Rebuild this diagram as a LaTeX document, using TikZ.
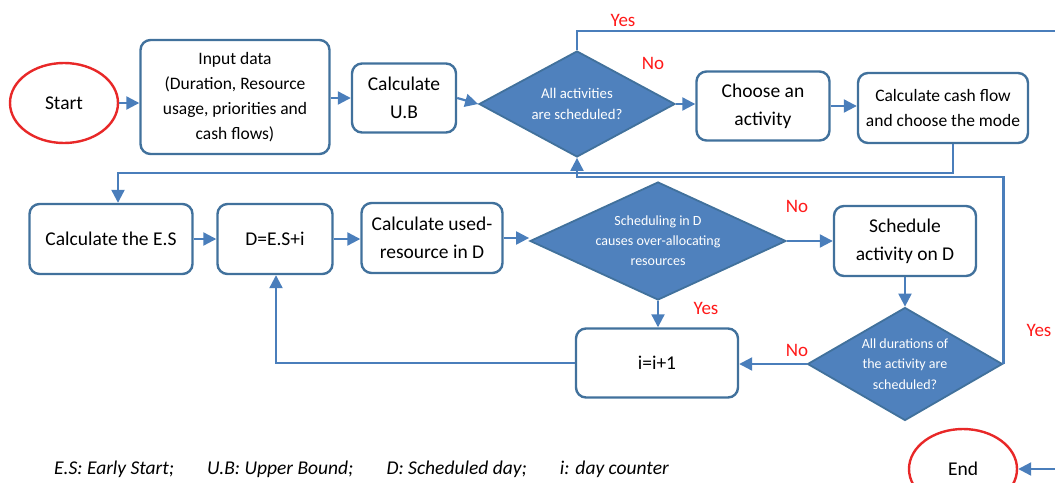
\documentclass[tikz,border=0pt]{standalone}
\usepackage{fontspec}
\setmainfont{Carlito}
\usetikzlibrary{shapes.geometric,arrows.meta}
\definecolor{boxblue}{RGB}{65,113,156}
\definecolor{lineblue}{RGB}{74,126,187}
\definecolor{decfill}{RGB}{79,129,189}
\definecolor{termred}{RGB}{232,40,40}
\definecolor{labred}{RGB}{255,25,25}
\begin{document}
\begin{tikzpicture}[x=1pt,y=-1pt,
  box/.style={draw=boxblue,line width=2.4pt,rounded corners=10pt,fill=white,align=center,inner sep=0pt,font=\fontsize{19.5}{28}\selectfont},
  term/.style={ellipse,draw=termred,line width=2.4pt,minimum width=108,minimum height=80,inner sep=0pt,font=\fontsize{19.5}{24}\selectfont},
  dec/.style={diamond,draw=boxblue,fill=decfill,line width=1.8pt,text=white,align=center,inner sep=0pt},
  conn/.style={draw=lineblue,line width=2.2pt},
  arr/.style={conn,-{Triangle[length=13pt,width=13pt]}},
  lab/.style={text=labred,font=\fontsize{19}{23}\selectfont}]
  \useasboundingbox (0,0) rectangle (1055,482);
  \clip (0,0) rectangle (1055,482);
  \node[term] (start) at (64,103) {Start};
  \node[box,minimum width=189,minimum height=114,font=\fontsize{17.5}{25}\selectfont] (input) at (235,97) {Input data\\(Duration, Resource\\usage, priorities and\\cash flows)};
  \node[box,minimum width=104,minimum height=69] (calcub) at (404,98) {Calculate\\U.B};
  \node[dec,minimum width=196,minimum height=106,aspect=1.8,font=\fontsize{14.8}{21.5}\selectfont] (dec1) at (577,104) {All activities\\are scheduled?};
  \node[box,minimum width=133,minimum height=69] (choose) at (763,106) {Choose an\\activity};
  \node[box,minimum width=170,minimum height=70,font=\fontsize{17.5}{25.5}\selectfont] (cash) at (943,108) {Calculate cash flow\\and choose the mode};
  \node[box,minimum width=163,minimum height=70] (calces) at (111,239) {Calculate the E.S};
  \node[box,minimum width=115,minimum height=70] (dday) at (275,239) {D=E.S+i};
  \node[box,minimum width=141,minimum height=70] (used) at (432,238) {Calculate used-\\resource in D};
  \node[dec,minimum width=256,minimum height=118,aspect=2.2,font=\fontsize{14}{20}\selectfont] (dec2) at (658,241) {Scheduling in D\\causes over-allocating\\resources};
  \node[box,minimum width=142,minimum height=70] (sched) at (905,241) {Schedule\\activity on D};
  \node[dec,minimum width=195,minimum height=113,aspect=1.7,font=\fontsize{14}{20.5}\selectfont] (dec3) at (905,364) {All durations of\\the activity are\\scheduled?};
  \node[box,minimum width=162,minimum height=69] (incr) at (657,363) {i=i+1};
  \node[term] (end) at (963,469) {End};
  \coordinate (yesout) at (1055,31);
  \coordinate (endin) at (1055,469);
  \draw[arr] (start.east) -- (start.east -| input.west);
  \draw[arr] (calcub.west -| input.east) -- (calcub.west);
  \draw[arr] (calcub.east) -- (dec1.west);
  \draw[arr] (dec1.east) -- (dec1.east -| choose.west);
  \draw[arr] (choose.east) -- (choose.east -| cash.west);
  \draw[conn] (dec1.north) |- (yesout);
  \draw[arr] ([xshift=10pt]cash.south) -- ++(0,29) -| ([xshift=7pt]calces.north);
  \draw[arr] (dec3.east) -- ++(0,-187) -| (dec1.south);
  \draw[arr] (calces.east) -- (dday.west);
  \draw[arr] (dday.east) -- (dday.east -| used.west);
  \draw[arr] (used.east) -- (used.east -| dec2.west);
  \draw[arr] (dec2.east) -- (dec2.east -| sched.west);
  \draw[arr] (sched.south) -- (dec3.north);
  \draw[arr] (dec3.west) -- (dec3.west -| incr.east);
  \draw[arr] (dec2.south) -- (dec2.south |- incr.north);
  \draw[arr] (incr.west) -| ([xshift=1pt]dday.south);
  \draw[arr] (endin) -- (end.east);
  \node[lab] (yes1) at (623,20) {Yes};
  \node[lab] (no1) at (653,63) {No};
  \node[lab] (no2) at (797,206) {No};
  \node[lab] (yes2) at (706,308) {Yes};
  \node[lab] (yes3) at (1039,330) {Yes};
  \node[lab] (no3) at (797,350) {No};
  \node[anchor=west,inner sep=0pt,font=\itshape\fontsize{19.5}{23}\selectfont] (legend) at (54,469) {E.S: Early Start;\hspace{1.7em}U.B: Upper Bound;\hspace{1.7em}D: Scheduled day;\hspace{1.7em}i: day counter};
\end{tikzpicture}
\end{document}
